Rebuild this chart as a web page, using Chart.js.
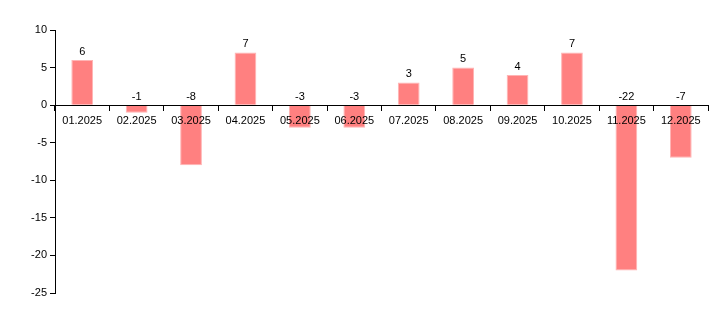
<!DOCTYPE html>
<html>
<head>
<meta charset="utf-8">
<script src="https://cdn.jsdelivr.net/npm/chart.js@4"></script>
<style>
  html, body { margin: 0; padding: 0; background: #fff; }
  #wrap { width: 718px; height: 325px; }
</style>
</head>
<body>
<div id="wrap"><canvas id="main-chart" width="718" height="325"></canvas></div>
<script>
// data
var months = ['01.2025', '02.2025', '03.2025', '04.2025', '05.2025', '06.2025',
              '07.2025', '08.2025', '09.2025', '10.2025', '11.2025', '12.2025'];
var values = [6, -1, -8, 7, -3, -3, 3, 5, 4, 7, -22, -7];
var yTicks = [10, 5, 0, -5, -10, -15, -20, -25];

var fontSpec = { family: '"Liberation Sans", Arial, sans-serif', size: 11 };

// numbers above the bars (negatives sit just above the zero line)
var valueLabels = {
    id: 'valueLabels',
    afterDatasetsDraw: function (chart) {
        var ctx = chart.ctx;
        var meta = chart.getDatasetMeta(0);
        var zeroY = chart.scales.y.getPixelForValue(0);
        ctx.save();
        ctx.font = '11px "Liberation Sans", Arial, sans-serif';
        ctx.fillStyle = '#000';
        ctx.textAlign = 'center';
        ctx.textBaseline = 'bottom';
        meta.data.forEach(function (bar, i) {
            var v = values[i];
            var y = v >= 0 ? bar.y : zeroY;
            ctx.fillText(String(v), bar.x, y - 3);
        });
        ctx.restore();
    }
};

var chartCtx = document.querySelector('#main-chart').getContext('2d');
var barChart = new Chart(chartCtx, {
    type: 'bar',
    data: {
        labels: months,
        datasets: [{
            data: values,
            backgroundColor: '#FF8080',
            borderColor: '#FFB4B4',
            borderWidth: 1,
            categoryPercentage: 1,
            barPercentage: 0.4
        }]
    },
    options: {
        responsive: false,
        animation: false,
        devicePixelRatio: 1,
        layout: { padding: { top: 30, right: 10, bottom: 32, left: 0 } },
        plugins: {
            legend: { display: false },
            tooltip: { enabled: false }
        },
        scales: {
            x: {
                position: { y: 0 },
                grid: {
                    offset: true,
                    drawOnChartArea: false,
                    drawTicks: true,
                    tickLength: 5,
                    tickColor: '#000',
                    z: 1
                },
                border: { color: '#000', width: 1, z: 1 },
                ticks: {
                    color: '#000',
                    font: fontSpec,
                    padding: 4,
                    maxRotation: 0,
                    autoSkip: false,
                    z: 1
                }
            },
            y: {
                min: -25,
                max: 10,
                afterFit: function (scale) { scale.width = 55; },
                afterBuildTicks: function (scale) {
                    scale.ticks = yTicks.map(function (v) { return { value: v }; });
                },
                grid: {
                    drawOnChartArea: false,
                    drawTicks: true,
                    tickLength: 5,
                    tickColor: '#000'
                },
                border: { color: '#000', width: 1 },
                ticks: {
                    color: '#000',
                    font: fontSpec,
                    padding: 3
                }
            }
        }
    },
    plugins: [valueLabels]
});
</script>
</body>
</html>
